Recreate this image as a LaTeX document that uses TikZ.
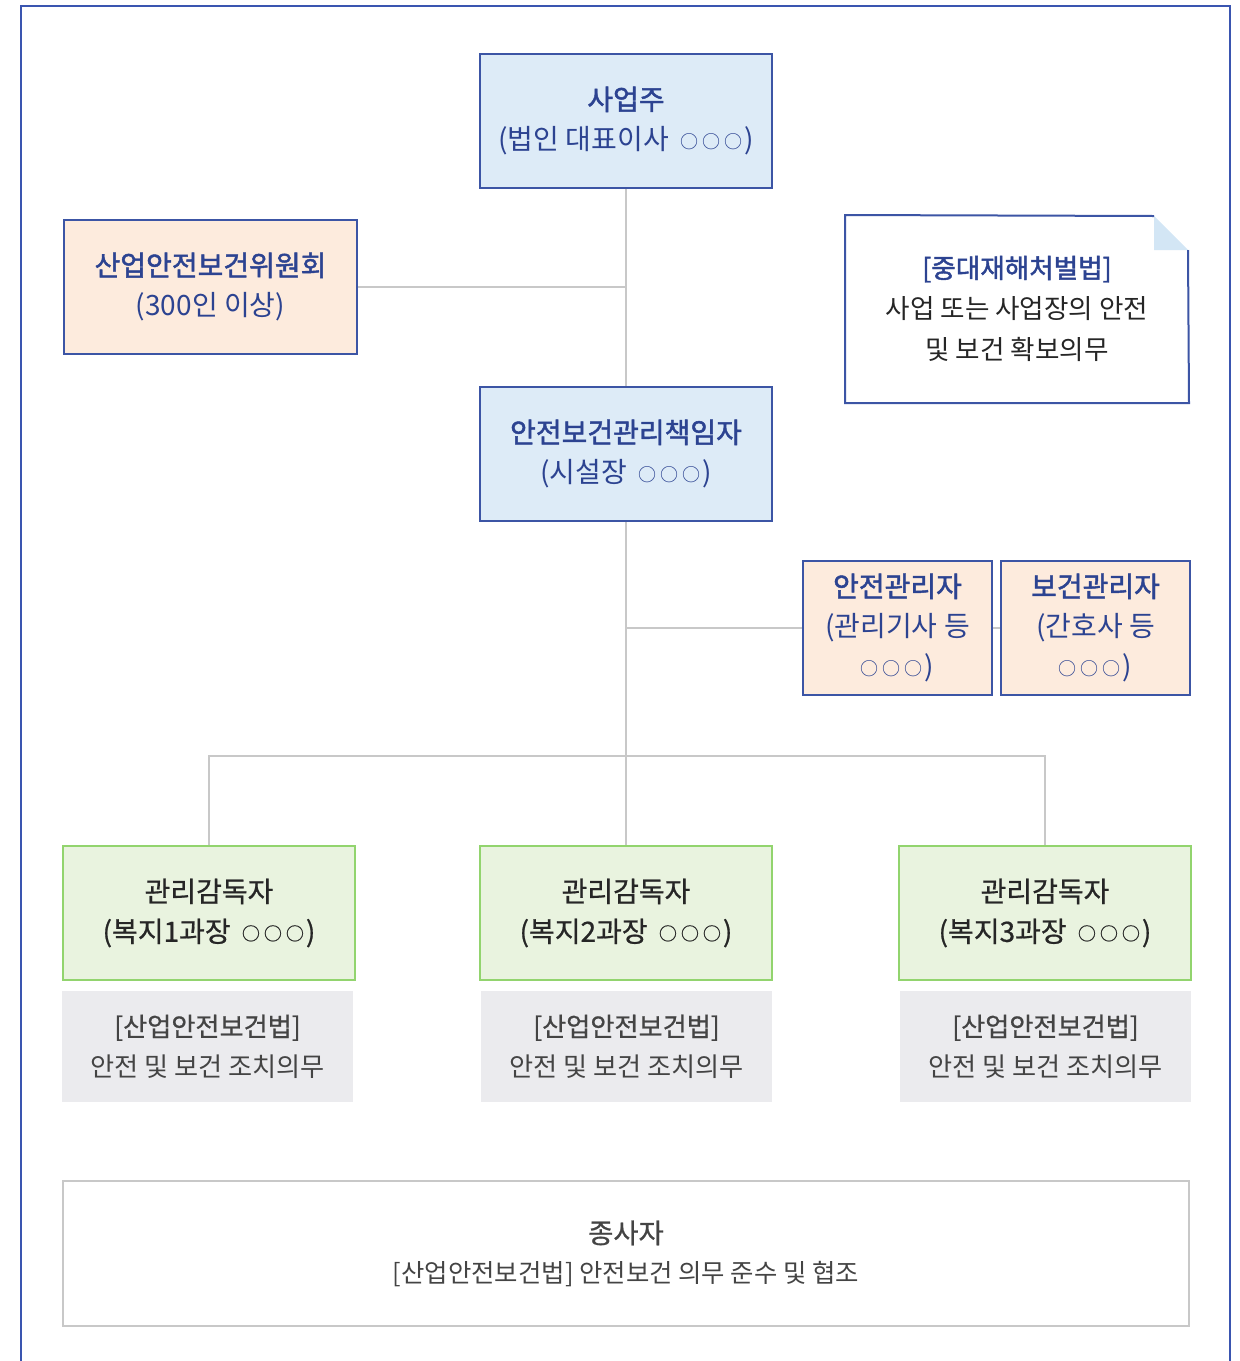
\documentclass[tikz,border=0pt]{standalone}
\usepackage{fontspec}
\setmainfont{Noto Sans CJK KR}
\newfontfamily\semibold[FakeBold=1.6]{Noto Sans CJK KR}
\newfontfamily\medfont[FakeBold=0.7]{Noto Sans CJK KR}
\definecolor{bdblue}{HTML}{3C55A5}
\definecolor{txtblue}{HTML}{2C4391}
\definecolor{fillblue}{HTML}{DDEBF7}
\definecolor{fillpeach}{HTML}{FDEBDD}
\definecolor{fillgreen}{HTML}{E9F3DF}
\definecolor{bdgreen}{HTML}{92D46E}
\definecolor{fillgray}{HTML}{EBEBEE}
\definecolor{conn}{HTML}{C8C8C8}
\definecolor{framecol}{HTML}{3A55B0}
\definecolor{foldcol}{HTML}{D3E6F5}
\definecolor{darktxt}{HTML}{262626}
\definecolor{graytxt}{HTML}{444444}
\newcommand\ooo{\raisebox{0.8pt}{\fontsize{9}{9}\selectfont ○\kern2pt○\kern2pt○}\kern1pt}
\newcommand\sooo{\space\kern2.5pt\ooo}
\begin{document}
\begin{tikzpicture}[x=0.5pt,y=-0.5pt,
  box/.style={rectangle, line width=1pt, align=center, inner sep=0pt, font=\fontsize{14}{20}\selectfont},
  bluebox/.style={box, draw=bdblue, fill=fillblue, text=txtblue, minimum width=146pt, minimum height=67pt},
  peachbox/.style={box, draw=bdblue, fill=fillpeach, text=txtblue, minimum height=67pt},
  greenbox/.style={box, draw=bdgreen, fill=fillgreen, text=darktxt, minimum width=146pt, minimum height=67pt, font=\fontsize{14}{20}\medfont},
  graybox/.style={box, fill=fillgray, text=graytxt, minimum width=145.5pt, minimum height=55.5pt, font=\fontsize{13.1}{20}\selectfont},
  conline/.style={draw=conn, line width=1pt}]
\useasboundingbox (0,0) rectangle (1239,1361);
% outer frame
\draw[framecol, line width=1pt] (21,1361) -- (21,6) -- (1230,6) -- (1230,1361);

% nodes
\node[bluebox] (owner) at (626,121) {{\semibold 사업주}\\(법인 대표이사\sooo)};
\node[peachbox, minimum width=146.5pt] (committee) at (210.5,287) {{\semibold 산업안전보건위원회}\\(300인 이상)};
\node[bluebox] (mgr) at (626,454) {{\semibold 안전보건관리책임자}\\(시설장\sooo)};
\node[peachbox, minimum width=94.5pt] (safe) at (897.5,628) {{\semibold 안전관리자}\\(관리기사 등\\\ooo)};
\node[peachbox, minimum width=94.5pt] (health) at (1095.5,628) {{\semibold 보건관리자}\\(간호사 등\\\ooo)};

% note with folded corner
\node[box, minimum width=171pt, minimum height=93pt] (note) at (1017,309) {};
\fill[white] (note.north west) -- (1154,216) -- (1188,250) -- (note.south east) -- (note.south west) -- cycle;
\fill[foldcol] (1154,216) -- (1154,250) -- (1188,250) -- cycle;
\draw[bdblue, line width=1pt] (1154,216) -- (note.north west) -- (note.south west) -- (note.south east) -- (1188,250);
\node[align=center, inner sep=0pt, font=\fontsize{13.3}{20.5}\selectfont, text=darktxt] (notetext) at (note.center)
  {\textcolor{txtblue}{\semibold [중대재해처벌법]}\\사업 또는 사업장의 안전\\및 보건 확보의무};

\node[greenbox] (sup1) at (209,913) {관리감독자\\(복지1과장\sooo)};
\node[greenbox] (sup2) at (626,913) {관리감독자\\(복지2과장\sooo)};
\node[greenbox] (sup3) at (1045,913) {관리감독자\\(복지3과장\sooo)};

\node[graybox] (law1) at (207.5,1046.5) {{\medfont [산업안전보건법]}\\안전 및 보건 조치의무};
\node[graybox] (law2) at (626.5,1046.5) {{\medfont [산업안전보건법]}\\안전 및 보건 조치의무};
\node[graybox] (law3) at (1045.5,1046.5) {{\medfont [산업안전보건법]}\\안전 및 보건 조치의무};

\node[box, draw=conn, fill=white, text=graytxt, minimum width=563pt, minimum height=72.5pt, font=\fontsize{12.7}{19.5}\selectfont] (workers) at (626,1253.5)
  {{\fontsize{13.7}{19.5}\medfont 종사자}\\{[산업안전보건법]} 안전보건 의무 준수 및 협조};

% connectors
\coordinate (j1) at (626,628);
\coordinate (j2) at (626,756);
\draw[conline] (owner.south) -- (mgr.north);
\draw[conline] (committee.east) -- (committee.east -| owner.south);
\draw[conline] (mgr.south) -- (sup2.north);
\draw[conline] (j1) -- (safe.west);
\draw[conline] (safe.east) -- (health.west);
\draw[conline] (sup1.north) |- (j2) -| (sup3.north);
\end{tikzpicture}
\end{document}
